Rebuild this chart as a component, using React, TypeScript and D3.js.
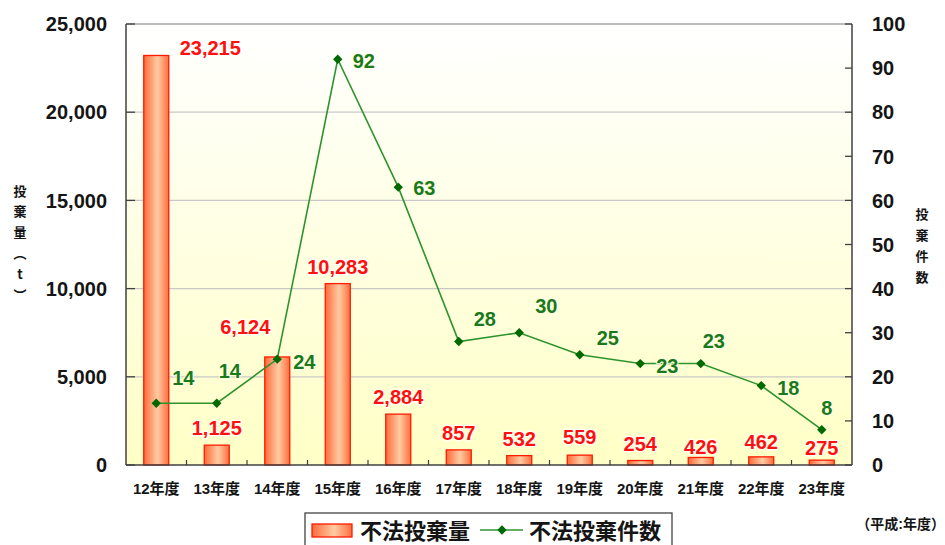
import React from "react";
import * as d3 from "d3";

const categories = ["12年度", "13年度", "14年度", "15年度", "16年度", "17年度", "18年度", "19年度", "20年度", "21年度", "22年度", "23年度"];
const amounts = [23215, 1125, 6124, 10283, 2884, 857, 532, 559, 254, 426, 462, 275];
const counts = [14, 14, 24, 92, 63, 28, 30, 25, 23, 23, 18, 8];
const leftTicks = [0, 5000, 10000, 15000, 20000, 25000];
const rightTicks = [0, 10, 20, 30, 40, 50, 60, 70, 80, 90, 100];
const seriesNames = ["不法投棄量", "不法投棄件数"];
const leftTitle = ["投", "棄", "量", "︵", "t", "︶"];
const rightTitle = ["投", "棄", "件", "数"];
const footnote = "（平成:年度）";

// label placement (layout only)
const barLabelOffset: [number, number][] = [
  [54, -8], [0, -17], [-32, -30], [0, -17], [0, -17], [0, -17],
  [0, -17], [0, -18], [0, -17], [0, -11], [0, -15], [0, -12],
];
const lineLabelOffset: [number, number][] = [
  [27, -25], [13, -32], [27, 3], [26, 2], [26, 1], [26, -23],
  [27, -27], [28, -17], [27, 2], [13, -23], [27, 2], [5, -22],
];

const W = 945, H = 545;
const L = 126, R = 852, T = 24, B = 465;
const FONT = "'Liberation Sans', Arial, 'Noto Sans CJK JP', sans-serif";
const CJK = "'Noto Sans CJK JP', sans-serif";

export default function App() {
  const x = d3.scaleBand<string>().domain(categories).range([L, R]).padding(0);
  const yL = d3.scaleLinear().domain([0, 25000]).range([B, T]);
  const yR = d3.scaleLinear().domain([0, 100]).range([B, T]);
  const bw = 25;
  const cx = (c: string) => (x(c) as number) + x.bandwidth() / 2;
  const fmt = d3.format(",");
  const line = d3.line<number>().x((_, i) => cx(categories[i])).y((d) => yR(d));
  const diamond = d3.symbol().type(d3.symbolSquare).size(44)() as string;

  return (
    <svg width={W} height={H} style={{ position: "absolute", left: 0, top: 0, display: "block" }} fontFamily={FONT}>
      <defs>
        <linearGradient id="bg" x1="0" y1="0" x2="0" y2="1">
          <stop offset="0" stopColor="#ffffff" />
          <stop offset="1" stopColor="#ffffc6" />
        </linearGradient>
        <linearGradient id="barg" x1="0" y1="0" x2="1" y2="0">
          <stop offset="0" stopColor="#ff6a3a" />
          <stop offset="0.55" stopColor="#ffcba2" />
          <stop offset="1" stopColor="#ff6e3e" />
        </linearGradient>
      </defs>
      <rect x={0} y={0} width={W} height={H} fill="#ffffff" />
      <rect x={L} y={T} width={R - L} height={B - T} fill="url(#bg)" />
      {leftTicks.filter((t) => t > 0 && t < 25000).map((t) => (
        <line key={t} x1={L} x2={R} y1={yL(t)} y2={yL(t)} stroke="#c8c8c8" strokeWidth={1.2} />
      ))}
      <line x1={L} x2={R} y1={T} y2={T} stroke="#7a7a7a" strokeWidth={1.2} />
      {amounts.map((v, i) => (
        <rect key={i} x={cx(categories[i]) - bw / 2} y={yL(v)} width={bw} height={B - yL(v)}
          fill="url(#barg)" stroke="#ff1a00" strokeWidth={1.3} />
      ))}
      <line x1={L} x2={L} y1={T} y2={B} stroke="#404040" strokeWidth={1.5} />
      <line x1={R} x2={R} y1={T} y2={B} stroke="#404040" strokeWidth={1.5} />
      <line x1={L} x2={R} y1={B} y2={B} stroke="#404040" strokeWidth={1.5} />
      {leftTicks.map((t) => (
        <g key={t}>
          <line x1={L} x2={L + 9} y1={yL(t)} y2={yL(t)} stroke="#404040" strokeWidth={1.3} />
          <text x={107} y={yL(t)} dy="0.36em" textAnchor="end" fontSize={20} fontWeight="bold" fill="#151515">{fmt(t)}</text>
        </g>
      ))}
      {rightTicks.map((t) => (
        <g key={t}>
          <line x1={R - 7} x2={R} y1={yR(t)} y2={yR(t)} stroke="#404040" strokeWidth={1.3} />
          <text x={872} y={yR(t)} dy="0.36em" textAnchor="start" fontSize={20} fontWeight="bold" fill="#151515">{t}</text>
        </g>
      ))}
      {categories.slice(1).map((c) => (
        <line key={c} x1={x(c) as number} x2={x(c) as number} y1={B} y2={B - 5} stroke="#404040" strokeWidth={1.2} />
      ))}
      {categories.map((c) => (
        <text key={c} x={cx(c)} y={489} dy="0.36em" textAnchor="middle" fontSize={15} fontWeight="bold" fill="#151515">{c}</text>
      ))}
      <path d={line(counts) as string} fill="none" stroke="#2e932e" strokeWidth={1.6} />
      {counts.map((v, i) => (
        <path key={i} d={diamond} transform={`translate(${cx(categories[i])},${yR(v)}) rotate(45)`} fill="#006a00" />
      ))}
      {amounts.map((v, i) => (
        <text key={i} x={cx(categories[i]) + barLabelOffset[i][0]} y={yL(v) + barLabelOffset[i][1]} dy="0.36em"
          textAnchor="middle" fontSize={20} fontWeight="bold" fill="#ff1010"
          stroke="#ffffff" strokeWidth={2.5} strokeOpacity={0.8} paintOrder="stroke" strokeLinejoin="round">{fmt(v)}</text>
      ))}
      {counts.map((v, i) => (
        <text key={i} x={cx(categories[i]) + lineLabelOffset[i][0]} y={yR(v) + lineLabelOffset[i][1]} dy="0.36em"
          textAnchor="middle" fontSize={20} fontWeight="bold" fill="#1a7a1a"
          stroke="#ffffe8" strokeWidth={2.5} strokeOpacity={0.8} paintOrder="stroke" strokeLinejoin="round">{v}</text>
      ))}
      {leftTitle.map((ch, i) => (
        <text key={i} x={20} y={191 + i * 20.8} dy="0.36em" textAnchor="middle" fontSize={13} fontWeight="bold" fill="#151515" fontFamily={CJK}>{ch}</text>
      ))}
      {rightTitle.map((ch, i) => (
        <text key={i} x={922} y={214 + i * 21.2} dy="0.36em" textAnchor="middle" fontSize={13} fontWeight="bold" fill="#151515" fontFamily={CJK}>{ch}</text>
      ))}
      <text x={945} y={524} dy="0.36em" textAnchor="end" fontSize={14} fontWeight="bold" fill="#151515">{footnote}</text>
      <rect x={305} y={513} width={367} height={40} fill="#ffffff" stroke="#333333" strokeWidth={1.2} />
      <rect x={312} y={524} width={40} height={13} fill="url(#barg)" stroke="#ff1a00" strokeWidth={1.3} />
      <text x={360} y={531} dy="0.36em" fontSize={22} fontWeight="bold" fill="#151515">{seriesNames[0]}</text>
      <line x1={480} x2={523} y1={530} y2={530} stroke="#2e932e" strokeWidth={1.6} />
      <path d={diamond} transform="translate(502,530) rotate(45)" fill="#006a00" />
      <text x={529} y={531} dy="0.36em" fontSize={22} fontWeight="bold" fill="#151515">{seriesNames[1]}</text>
    </svg>
  );
}
